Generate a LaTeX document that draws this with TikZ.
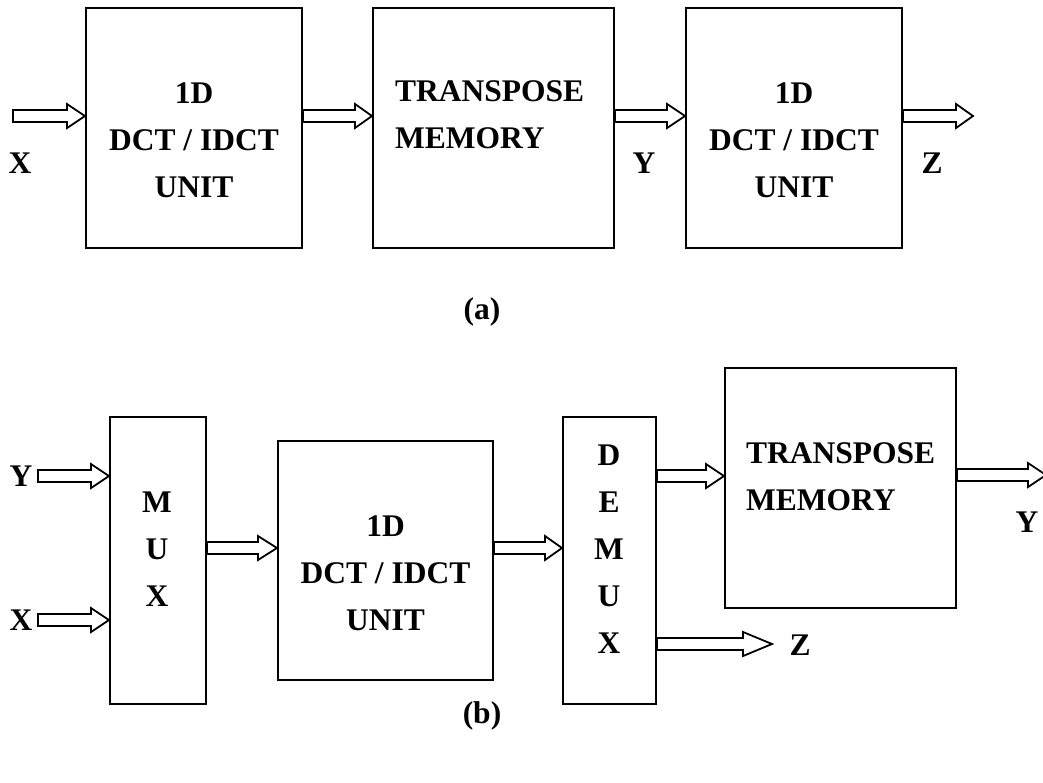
\documentclass[tikz,border=0pt]{standalone}
\usepackage{fontspec}
\setmainfont{Liberation Serif}
\usetikzlibrary{calc}

% Hollow block arrow from #2 to #3 (same height), head length #1
\newcommand{\hollowarrow}[3][18pt]{%
  \draw[arrowline] let \p1=#2, \p2=#3 in
    (\x1,\y1+6pt) -- (\x2-#1,\y1+6pt) -- (\x2-#1,\y1+12pt) -- (\x2,\y1)
    -- (\x2-#1,\y1-12pt) -- (\x2-#1,\y1-6pt) -- (\x1,\y1-6pt) -- cycle;}

\tikzset{
  block/.style={draw, line width=2pt, inner sep=0pt, fill=white},
  arrowline/.style={draw, line width=1.8pt, fill=white, line join=miter},
  lbl/.style={inner sep=0pt, font=\fontsize{31.5}{47}\selectfont\bfseries},
  blocktext/.style={lbl, align=center},
  lefttext/.style={lbl, align=left, anchor=west},
}

\begin{document}
\begin{tikzpicture}[x=1pt, y=-1pt]
  \fill[white] (0,0) rectangle (1043,782);
  \useasboundingbox (0,0) rectangle (1043,782);

  % ---------------- (a) row-column pipeline ----------------
  \node[block, minimum width=216pt, minimum height=240pt] (a1) at (194,128) {};
  \node[block, minimum width=241pt, minimum height=240pt] (a2) at (493.5,128) {};
  \node[block, minimum width=216pt, minimum height=240pt] (a3) at (794,128) {};

  \node[blocktext] (a1t) at (194,140) {1D\\DCT / IDCT\\UNIT};
  \node[lefttext]  (a2t) at (395,115) {TRANSPOSE\\MEMORY};
  \node[blocktext] (a3t) at (794,140) {1D\\DCT / IDCT\\UNIT};

  \coordinate (ain)  at (13,116);
  \coordinate (aout) at (973,116);
  \hollowarrow{(ain)}{(a1.west |- ain)}
  \hollowarrow[17pt]{(a1.east |- ain)}{(a2.west |- ain)}
  \hollowarrow{(a2.east |- ain)}{(a3.west |- ain)}
  \hollowarrow[17pt]{(a3.east |- ain)}{(aout)}

  \node[lbl] (ax) at (20,163) {X};
  \node[lbl] (ay) at (644,163) {Y};
  \node[lbl] (az) at (932,163) {Z};
  \node[lbl] (acap) at (482,312) {(a)};

  % ---------------- (b) shared-unit pipeline ----------------
  \node[block, minimum width=96pt,  minimum height=287pt] (mux)   at (158,560.5) {};
  \node[block, minimum width=215pt, minimum height=239pt] (dct)   at (385.5,560.5) {};
  \node[block, minimum width=93pt,  minimum height=287pt] (demux) at (609.5,560.5) {};
  \node[block, minimum width=231pt, minimum height=240pt] (tm)    at (840.5,488) {};

  \node[blocktext] (muxt)   at (157,549) {M\\U\\X};
  \node[blocktext] (dctt)   at (385.5,573) {1D\\DCT / IDCT\\UNIT};
  \node[blocktext] (demuxt) at (609,549) {D\\E\\M\\U\\X};
  \node[lefttext]  (tmt)    at (746,476.5) {TRANSPOSE\\MEMORY};

  \coordinate (yin)  at (38,476);
  \coordinate (xin)  at (38,620);
  \coordinate (mid)  at (0,548);
  \coordinate (yout) at (1046,475);
  \coordinate (zout) at (772,644);
  \hollowarrow{(yin)}{(mux.west |- yin)}
  \hollowarrow{(xin)}{(mux.west |- xin)}
  \hollowarrow[19pt]{(mux.east |- mid)}{(dct.west |- mid)}
  \hollowarrow[17pt]{(dct.east |- mid)}{(demux.west |- mid)}
  \hollowarrow{(demux.east |- yin)}{(tm.west |- yin)}
  \hollowarrow{(tm.east |- yout)}{(yout)}
  \hollowarrow[29pt]{(demux.east |- zout)}{(zout)}

  \node[lbl] (by)  at (21,476) {Y};
  \node[lbl] (bx)  at (21,620) {X};
  \node[lbl] (bz)  at (800,645) {Z};
  \node[lbl] (by2) at (1027,522) {Y};
  \node[lbl] (bcap) at (482,716) {(b)};
\end{tikzpicture}
\end{document}
